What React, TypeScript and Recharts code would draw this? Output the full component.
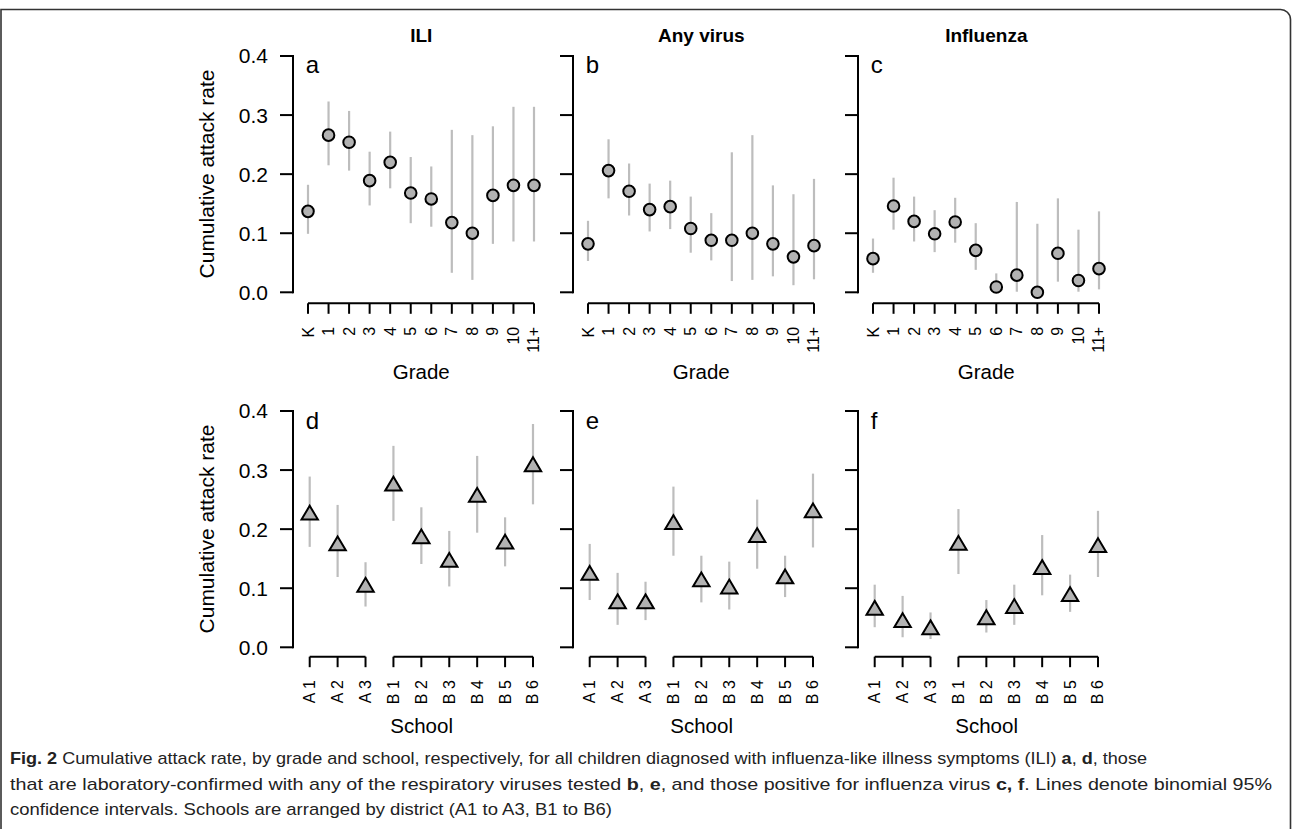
import React from "react";
import { ScatterChart, Scatter, XAxis, YAxis, ErrorBar, ReferenceLine } from "recharts";

const grades = ["K", "1", "2", "3", "4", "5", "6", "7", "8", "9", "10", "11+"];
const schools = ["A 1", "A 2", "A 3", "B 1", "B 2", "B 3", "B 4", "B 5", "B 6"];
const yTicks = [0, 0.1, 0.2, 0.3, 0.4];

// by grade
const iliGrade = [0.137, 0.266, 0.254, 0.189, 0.22, 0.168, 0.158, 0.118, 0.1, 0.164, 0.181, 0.181];
const iliGradeLo = [0.099, 0.215, 0.206, 0.147, 0.176, 0.117, 0.111, 0.033, 0.021, 0.082, 0.086, 0.086];
const iliGradeHi = [0.182, 0.323, 0.307, 0.238, 0.272, 0.229, 0.213, 0.275, 0.266, 0.281, 0.314, 0.314];

const virusGrade = [0.082, 0.206, 0.171, 0.14, 0.145, 0.108, 0.088, 0.088, 0.1, 0.082, 0.06, 0.079];
const virusGradeLo = [0.053, 0.159, 0.13, 0.103, 0.107, 0.067, 0.054, 0.019, 0.021, 0.027, 0.012, 0.022];
const virusGradeHi = [0.121, 0.259, 0.218, 0.184, 0.189, 0.162, 0.134, 0.237, 0.266, 0.181, 0.166, 0.192];

const fluGrade = [0.057, 0.146, 0.12, 0.099, 0.119, 0.071, 0.009, 0.029, 0.0, 0.066, 0.02, 0.04];
const fluGradeLo = [0.033, 0.106, 0.086, 0.068, 0.084, 0.038, 0.0, 0.001, 0.0, 0.018, 0.001, 0.005];
const fluGradeHi = [0.091, 0.194, 0.162, 0.139, 0.16, 0.117, 0.032, 0.153, 0.116, 0.159, 0.106, 0.137];

// by school
const iliSchool = [0.224, 0.172, 0.102, 0.273, 0.184, 0.144, 0.254, 0.175, 0.306];
const iliSchoolLo = [0.17, 0.119, 0.069, 0.214, 0.141, 0.103, 0.194, 0.137, 0.242];
const iliSchoolHi = [0.289, 0.241, 0.144, 0.341, 0.237, 0.197, 0.324, 0.22, 0.378];

const virusSchool = [0.122, 0.074, 0.074, 0.208, 0.111, 0.099, 0.186, 0.116, 0.228];
const virusSchoolLo = [0.08, 0.038, 0.046, 0.155, 0.076, 0.064, 0.133, 0.085, 0.169];
const virusSchoolHi = [0.175, 0.126, 0.111, 0.272, 0.155, 0.145, 0.25, 0.155, 0.294];

const fluSchool = [0.063, 0.042, 0.03, 0.173, 0.047, 0.066, 0.132, 0.086, 0.169];
const fluSchoolLo = [0.034, 0.017, 0.014, 0.124, 0.025, 0.038, 0.088, 0.06, 0.119];
const fluSchoolHi = [0.106, 0.087, 0.059, 0.234, 0.08, 0.106, 0.19, 0.123, 0.231];

const FONT = "'Liberation Sans', Arial, Helvetica, sans-serif";
const CI_COLOR = "#bdbdbd";
const FILL = "#b2b2b2";

const axesX = [293.3, 573.3, 858.3];
const topRow = { top: 56, zero: 292.3, axis: 303.3, firstOff: 15, lastOff: 241 };
const botRow = { top: 411, zero: 647.3, axis: 656.7, firstOff: 16.7, lastOff: 240 };

const Y_TICK = 13;
const Y_GAP = 12;
const X_TICK = 10.5;
const X_GAP = 13;

const CircleDot = (p: any) => (
  <circle cx={p.cx} cy={p.cy} r={5.8} fill={FILL} stroke="#000" strokeWidth={2} />
);

const TriDot = (p: any) => {
  const { cx, cy } = p;
  return (
    <path
      d={`M${cx},${cy - 9.2}L${cx + 8.2},${cy + 4.6}L${cx - 8.2},${cy + 4.6}Z`}
      fill={FILL}
      stroke="#000"
      strokeWidth={2}
    />
  );
};

function Panel({ ax, row, labels, values, lo, hi, shape, groups, showLabels }: any) {
  const n = labels.length;
  const first = ax + row.firstOff;
  const last = ax + row.lastOff;
  const pxX = (last - first) / (n - 1);
  const xMin = -(first - ax) / pxX;
  const xMax = n - 1 + 14 / pxX;
  const plotW = (xMax - xMin) * pxX;
  const pxY = (row.zero - row.top) / 0.4;
  const yMin = -(row.axis - row.zero) / pxY;
  const plotH = row.axis - row.top;

  const yAxisW = 110;
  const xAxisH = 90;
  const mTop = 20;
  const mRight = 20;
  const width = yAxisW + plotW + mRight;
  const height = mTop + plotH + xAxisH;

  const data = values.map((v: number, i: number) => ({ x: i, y: v, err: [v - lo[i], hi[i] - v] }));

  const xTick = (t: any) => {
    const axisY = t.y - X_TICK - X_GAP;
    return (
      <g key={"x" + t.index}>
        <line x1={t.x} x2={t.x} y1={axisY} y2={axisY + X_TICK} stroke="#000" strokeWidth={2} />
        <text
          x={t.x}
          y={t.y}
          transform={`rotate(-90 ${t.x} ${t.y})`}
          textAnchor="end"
          dominantBaseline="central"
          fontSize={16}
          fontFamily={FONT}
          fill="#000"
        >
          {labels[t.payload.value]}
        </text>
      </g>
    );
  };

  const yTick = (t: any) => {
    const axisX = t.x + Y_TICK + Y_GAP;
    const v = Number(t.payload.value);
    return (
      <g key={"y" + t.index}>
        <line x1={axisX - Y_TICK} x2={axisX} y1={t.y} y2={t.y} stroke="#000" strokeWidth={2} />
        {v === 0 && (
          <line x1={axisX} x2={axisX} y1={t.y + 1} y2={t.y - 0.4 * pxY - 1} stroke="#000" strokeWidth={2} />
        )}
        {showLabels && (
          <text x={t.x} y={t.y} textAnchor="end" dominantBaseline="central" fontSize={21} fontFamily={FONT} fill="#000">
            {v.toFixed(1)}
          </text>
        )}
      </g>
    );
  };

  return (
    <div style={{ position: "absolute", left: ax - yAxisW, top: row.top - mTop, width, height }}>
      <ScatterChart width={width} height={height} margin={{ top: mTop, right: mRight, bottom: 0, left: 0 }}>
        <XAxis
          type="number"
          dataKey="x"
          domain={[xMin, xMax]}
          ticks={labels.map((_: string, i: number) => i)}
          allowDataOverflow
          axisLine={false}
          tickLine={false}
          tickSize={X_TICK}
          tickMargin={X_GAP}
          height={xAxisH}
          interval={0}
          tick={xTick}
        />
        <YAxis
          type="number"
          dataKey="y"
          domain={[yMin, 0.4]}
          ticks={yTicks}
          allowDataOverflow
          axisLine={false}
          tickLine={false}
          tickSize={Y_TICK}
          tickMargin={Y_GAP}
          width={yAxisW}
          interval={0}
          tick={yTick}
        />
        {groups.map((g: number[], i: number) => (
          <ReferenceLine
            key={i}
            segment={[{ x: g[0], y: yMin }, { x: g[1], y: yMin }]}
            stroke="#000"
            strokeWidth={2}
            ifOverflow="visible"
          />
        ))}
        <Scatter data={data} shape={shape} isAnimationActive={false}>
          <ErrorBar dataKey="err" direction="y" width={0} stroke={CI_COLOR} strokeWidth={2.2} isAnimationActive={false} />
        </Scatter>
      </ScatterChart>
    </div>
  );
}

const titles = ["ILI", "Any virus", "Influenza"];
const topLetters = ["a", "b", "c"];
const botLetters = ["d", "e", "f"];

export default function App() {
  const topSeries = [
    [iliGrade, iliGradeLo, iliGradeHi],
    [virusGrade, virusGradeLo, virusGradeHi],
    [fluGrade, fluGradeLo, fluGradeHi],
  ];
  const botSeries = [
    [iliSchool, iliSchoolLo, iliSchoolHi],
    [virusSchool, virusSchoolLo, virusSchoolHi],
    [fluSchool, fluSchoolLo, fluSchoolHi],
  ];
  return (
    <div style={{ position: "absolute", left: 0, top: 0, width: 1292, height: 829, background: "#fff", overflow: "hidden", fontFamily: FONT }}>
      {axesX.map((ax, i) => (
        <Panel key={"t" + i} ax={ax} row={topRow} labels={grades} values={topSeries[i][0]} lo={topSeries[i][1]} hi={topSeries[i][2]} shape={CircleDot} groups={[[0, 11]]} showLabels={i === 0} />
      ))}
      {axesX.map((ax, i) => (
        <Panel key={"b" + i} ax={ax} row={botRow} labels={schools} values={botSeries[i][0]} lo={botSeries[i][1]} hi={botSeries[i][2]} shape={TriDot} groups={[[0, 2], [3, 8]]} showLabels={i === 0} />
      ))}
      <svg width={1292} height={829} style={{ position: "absolute", left: 0, top: 0, pointerEvents: "none" }}>
        <path d="M1,829 V9.5 H1280 A10,10 0 0 1 1290.5,19.5 V829" fill="none" stroke="#333" strokeWidth={1.6} />
        {axesX.map((ax, i) => {
          const cx = ax + (topRow.firstOff + topRow.lastOff) / 2;
          const bx = ax + (botRow.firstOff + botRow.lastOff) / 2;
          return (
            <g key={i} fontFamily={FONT} fill="#000">
              <text x={cx} y={41.5} textAnchor="middle" fontSize={19} fontWeight="bold">{titles[i]}</text>
              <text x={ax + 12.5} y={topRow.top + 17} fontSize={24}>{topLetters[i]}</text>
              <text x={ax + 12.5} y={botRow.top + 18} fontSize={24}>{botLetters[i]}</text>
              <text x={cx} y={379} textAnchor="middle" fontSize={20.5}>Grade</text>
              <text x={bx} y={732.5} textAnchor="middle" fontSize={20.5}>School</text>
            </g>
          );
        })}
        <text x={206} y={174} transform="rotate(-90 206 174)" textAnchor="middle" dominantBaseline="central" fontSize={21} fontFamily={FONT}>Cumulative attack rate</text>
        <text x={206} y={529} transform="rotate(-90 206 529)" textAnchor="middle" dominantBaseline="central" fontSize={21} fontFamily={FONT}>Cumulative attack rate</text>
        <g fontFamily="'Liberation Sans Narrow', 'Liberation Sans', Arial, sans-serif" fontSize={17} fill="#222">
          <text x={10} y={764} textLength={1137} lengthAdjust="spacingAndGlyphs">
            <tspan fontWeight="bold">Fig. 2</tspan> Cumulative attack rate, by grade and school, respectively, for all children diagnosed with influenza-like illness symptoms (ILI) <tspan fontWeight="bold">a</tspan>, <tspan fontWeight="bold">d</tspan>, those
          </text>
          <text x={10} y={790} textLength={1262} lengthAdjust="spacingAndGlyphs">
            that are laboratory-confirmed with any of the respiratory viruses tested <tspan fontWeight="bold">b</tspan>, <tspan fontWeight="bold">e</tspan>, and those positive for influenza virus <tspan fontWeight="bold">c, f</tspan>. Lines denote binomial 95%
          </text>
          <text x={10} y={815} textLength={602} lengthAdjust="spacingAndGlyphs">
            confidence intervals. Schools are arranged by district (A1 to A3, B1 to B6)
          </text>
        </g>
      </svg>
    </div>
  );
}
